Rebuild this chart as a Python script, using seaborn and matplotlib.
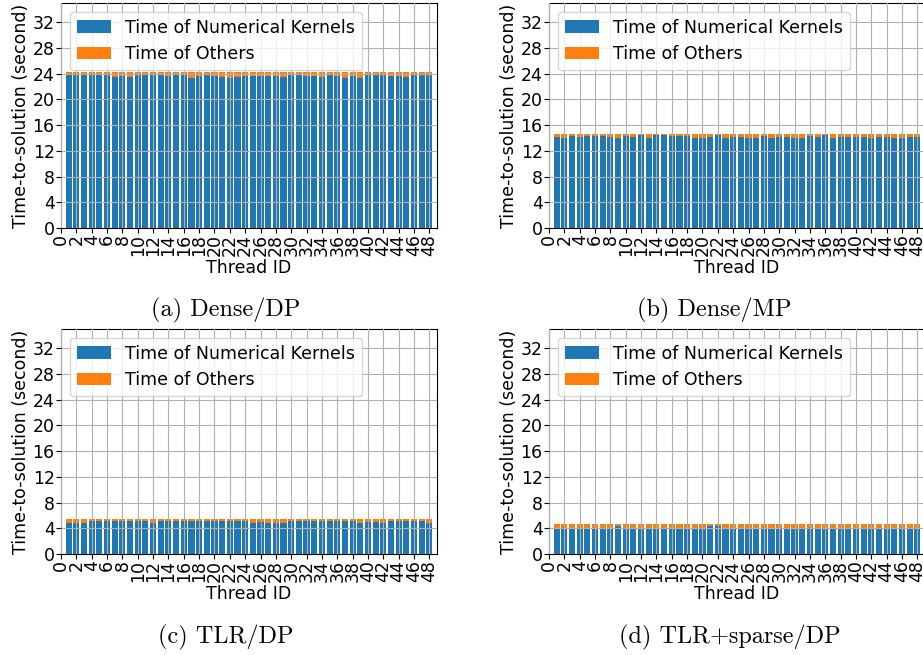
import matplotlib
matplotlib.use('Agg')
import matplotlib.pyplot as plt
import seaborn as sns
import pandas as pd

# Thread IDs (bars sit at 1..48), ticks every 2 from 0 to 48
thread_ids = list(range(1, 49))
xtick_values = list(range(0, 49, 2))
ytick_values = list(range(0, 33, 4))

captions = ['(a) Dense/DP', '(b) Dense/MP', '(c) TLR/DP', '(d) TLR+sparse/DP']

# Time of numerical kernels per thread (seconds)
kernel_a = [23.8, 24.0, 23.9, 23.9, 23.9, 23.9, 23.5, 23.6, 23.5, 23.9, 23.8, 23.9,
            23.9, 23.6, 23.8, 23.8, 23.4, 23.7, 23.9, 23.6, 23.5, 23.4, 23.5, 23.6,
            23.7, 23.7, 23.6, 23.6, 23.5, 23.8, 23.8, 23.6, 23.6, 23.5, 23.8, 23.6,
            23.4, 23.6, 23.4, 23.9, 23.8, 23.8, 23.6, 23.6, 23.5, 23.8, 23.8, 23.8]
kernel_b = [14.2, 14.0, 14.3, 14.2, 14.3, 14.3, 14.3, 14.1, 14.0, 14.3, 14.1, 14.5,
            14.0, 14.5, 14.5, 14.3, 14.3, 14.3, 14.0, 14.0, 14.2, 14.4, 14.0, 14.1,
            14.2, 14.0, 14.0, 14.3, 14.0, 14.1, 14.2, 14.0, 14.0, 14.3, 14.1, 14.5,
            14.0, 14.1, 14.1, 14.1, 14.1, 14.0, 14.1, 14.2, 14.0, 14.0, 14.1, 14.1]
kernel_c = [4.9, 4.9, 4.9, 5.1, 5.1, 5.1, 5.1, 5.1, 5.1, 5.1, 5.1, 4.9,
            5.1, 5.1, 5.1, 5.1, 5.1, 5.1, 5.1, 5.1, 5.1, 5.1, 5.1, 5.1,
            4.9, 5.0, 4.9, 4.9, 4.9, 5.1, 5.1, 5.1, 5.1, 5.1, 5.1, 5.1,
            5.1, 5.1, 4.9, 5.0, 5.0, 4.9, 5.1, 5.1, 5.1, 5.1, 5.1, 4.9]
kernel_d = [4.1, 4.1, 4.1, 4.1, 4.0, 4.1, 4.1, 4.1, 4.3, 4.1, 4.0, 4.1,
            4.1, 4.1, 4.1, 4.1, 4.1, 4.1, 4.1, 4.1, 4.3, 4.3, 4.1, 4.1,
            4.0, 4.1, 4.1, 4.1, 4.1, 4.1, 4.1, 4.1, 4.0, 4.1, 4.1, 4.1,
            4.1, 4.1, 4.1, 4.0, 4.1, 4.1, 4.1, 4.1, 4.0, 4.1, 4.1, 4.1]

# Time of everything else per thread (seconds)
others_a = [0.5, 0.3, 0.4, 0.4, 0.4, 0.4, 0.8, 0.7, 0.8, 0.4, 0.5, 0.4,
            0.4, 0.7, 0.5, 0.5, 0.9, 0.6, 0.4, 0.7, 0.8, 0.9, 0.8, 0.7,
            0.6, 0.6, 0.7, 0.7, 0.8, 0.5, 0.5, 0.7, 0.7, 0.8, 0.5, 0.7,
            0.9, 0.7, 0.9, 0.4, 0.5, 0.5, 0.7, 0.7, 0.8, 0.5, 0.5, 0.5]
others_b = [0.4, 0.6, 0.3, 0.4, 0.3, 0.3, 0.3, 0.5, 0.6, 0.3, 0.5, 0.1,
            0.6, 0.1, 0.1, 0.3, 0.3, 0.3, 0.6, 0.6, 0.4, 0.2, 0.6, 0.5,
            0.4, 0.6, 0.6, 0.3, 0.6, 0.5, 0.4, 0.6, 0.6, 0.3, 0.5, 0.1,
            0.6, 0.5, 0.5, 0.5, 0.5, 0.6, 0.5, 0.4, 0.6, 0.6, 0.5, 0.5]
others_c = [0.6, 0.6, 0.6, 0.4, 0.4, 0.4, 0.4, 0.4, 0.4, 0.4, 0.4, 0.6,
            0.4, 0.4, 0.4, 0.4, 0.4, 0.4, 0.4, 0.4, 0.4, 0.4, 0.4, 0.4,
            0.6, 0.5, 0.6, 0.6, 0.6, 0.4, 0.4, 0.4, 0.4, 0.4, 0.4, 0.4,
            0.4, 0.4, 0.6, 0.5, 0.5, 0.6, 0.4, 0.4, 0.4, 0.4, 0.4, 0.6]
others_d = [0.6, 0.6, 0.6, 0.6, 0.7, 0.6, 0.6, 0.6, 0.4, 0.6, 0.7, 0.6,
            0.6, 0.6, 0.6, 0.6, 0.6, 0.6, 0.6, 0.6, 0.4, 0.4, 0.6, 0.6,
            0.7, 0.6, 0.6, 0.6, 0.6, 0.6, 0.6, 0.6, 0.7, 0.6, 0.6, 0.6,
            0.6, 0.6, 0.6, 0.7, 0.6, 0.6, 0.6, 0.6, 0.7, 0.6, 0.6, 0.6]

kernels = [kernel_a, kernel_b, kernel_c, kernel_d]
others = [others_a, others_b, others_c, others_d]

FS = 12.5

fig = plt.figure(figsize=(9.23, 6.55), dpi=100)
W, H = 923, 655
ax_w, ax_h = 376, 225
positions = [(61, 228), (549, 228), (61, 554), (549, 554)]
caption_pos = [(226, 310), (714, 310), (226, 637), (730, 637)]

for i in range(4):
    left, bottom_px = positions[i]
    ax = fig.add_axes([left / W, (H - bottom_px) / H, ax_w / W, ax_h / H])

    df = pd.DataFrame({'thread': thread_ids, 'kernel': kernels[i], 'others': others[i]})
    df['total'] = df['kernel'] + df['others']

    # orange total first, blue kernel part drawn over it -> stacked look
    sns.barplot(data=df, x='thread', y='total', native_scale=True, color='#ff7f0e',
                saturation=1, width=0.8, linewidth=0, label='Time of Others', ax=ax)
    sns.barplot(data=df, x='thread', y='kernel', native_scale=True, color='#1f77b4',
                saturation=1, width=0.8, linewidth=0, label='Time of Numerical Kernels', ax=ax)

    ax.set_xlim(0, 49)
    ax.set_ylim(0, 35)
    ax.set_xticks(xtick_values)
    ax.set_xticklabels([str(v) for v in xtick_values], rotation=90, fontsize=FS)
    ax.set_yticks(ytick_values)
    ax.set_yticklabels([str(v) for v in ytick_values], fontsize=FS)
    ax.tick_params(axis='x', pad=1)
    ax.tick_params(axis='y', pad=1)
    ax.set_xlabel('Thread ID', fontsize=FS, labelpad=2)
    ax.set_ylabel('Time-to-solution (second)', fontsize=FS, labelpad=2)
    ax.set_axisbelow(False)
    ax.grid(True, color='#b0b0b0', linewidth=0.8)

    handles, labels = ax.get_legend_handles_labels()
    ax.legend(handles[::-1], labels[::-1], loc='upper left', fontsize=FS)

    cx, cy = caption_pos[i]
    fig.text(cx / W, 1 - cy / H, captions[i], family='cmr10', ha='center', va='center',
             fontsize=17.5)

fig.savefig('out.png', dpi=100)
